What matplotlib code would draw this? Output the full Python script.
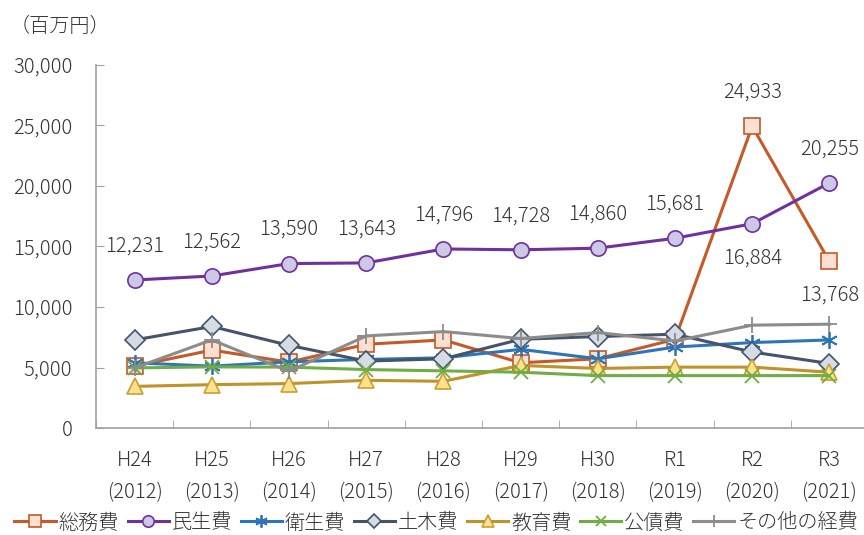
import matplotlib
matplotlib.use("Agg")
import matplotlib.pyplot as plt
from matplotlib.ticker import FuncFormatter

plt.rcParams['font.family'] = ['Noto Sans CJK JP', 'DejaVu Sans']
plt.rcParams['font.weight'] = 'light'

categories = ["H24\n(2012)", "H25\n(2013)", "H26\n(2014)", "H27\n(2015)", "H28\n(2016)",
              "H29\n(2017)", "H30\n(2018)", "R1\n(2019)", "R2\n(2020)", "R3\n(2021)"]

somu = [5110, 6440, 5440, 6920, 7280, 5390, 5720, 7330, 24933, 13768]
minsei = [12231, 12562, 13590, 13643, 14796, 14728, 14860, 15681, 16884, 20255]
eisei = [5390, 5110, 5470, 5670, 5800, 6500, 5720, 6690, 7060, 7280]
doboku = [7280, 8390, 6830, 5530, 5720, 7330, 7560, 7750, 6280, 5330]
kyoiku = [3440, 3580, 3670, 3940, 3860, 5170, 4920, 5030, 5030, 4610]
kosai = [4970, 5050, 5030, 4830, 4720, 4610, 4330, 4330, 4330, 4330]
sonota = [4970, 7280, 4690, 7610, 7970, 7390, 7890, 7190, 8500, 8580]

series_names = ["総務費", "民生費", "衛生費", "土木費", "教育費", "公債費", "その他の経費"]

FS = 14.5
TXT = "#333333"

fig = plt.figure(figsize=(8.64, 5.35), dpi=100)
ax = fig.add_axes([96/864, 107/535, 772/864, 363/535])

x = list(range(len(categories)))
lw = 2.2
styles = [
    (somu, dict(color="#C55A28", marker="s", markersize=11, markerfacecolor="#FBE0D3", markeredgecolor="#C55A28", markeredgewidth=1.2)),
    (minsei, dict(color="#7030A0", marker="o", markersize=11, markerfacecolor="#CDC8E4", markeredgecolor="#7030A0", markeredgewidth=1.2)),
    (eisei, dict(color="#2E75B6", marker=(6, 2, 0), markersize=12, markeredgecolor="#2E75B6", markeredgewidth=1.3)),
    (doboku, dict(color="#44546A", marker="D", markersize=10, markerfacecolor="#D6DCE5", markeredgecolor="#44546A", markeredgewidth=1.2)),
    (kyoiku, dict(color="#C0922A", marker="^", markersize=12, markerfacecolor="#FFE08F", markeredgecolor="#C9A030", markeredgewidth=1.2)),
    (kosai, dict(color="#70AD47", marker="x", markersize=10, markeredgecolor="#70AD47", markeredgewidth=1.3)),
    (sonota, dict(color="#8C8C8C", marker="+", markersize=11, markeredgecolor="#8C8C8C", markeredgewidth=1.3)),
]
for name, (vals, st) in zip(series_names, styles):
    ax.plot(x, vals, linewidth=lw, label=name, **st)

OFF = 24.5
# data labels for 民生費
for i, v in enumerate(minsei):
    dy = -OFF if i == 8 else OFF
    ax.annotate(f"{v:,}", (i, v), xytext=(0, dy), textcoords="offset points",
                ha="center", va="center", fontsize=FS, color=TXT)
# data labels for 総務費 (R2, R3)
ax.annotate(f"{somu[8]:,}", (8, somu[8]), xytext=(0, OFF), textcoords="offset points",
            ha="center", va="center", fontsize=FS, color=TXT)
ax.annotate(f"{somu[9]:,}", (9, somu[9]), xytext=(0, -OFF), textcoords="offset points",
            ha="center", va="center", fontsize=FS, color=TXT)

ax.set_xlim(-0.5, 9.5)
ax.set_ylim(0, 30000)
ax.set_yticks(range(0, 30001, 5000))
ax.yaxis.set_major_formatter(FuncFormatter(lambda v, p: f"{int(v):,}"))
ax.set_xticks(x)
ax.set_xticklabels(categories, linespacing=1.7)
ax.set_xticks([i + 0.5 for i in range(-1, 10)], minor=True)
ax.tick_params(axis="x", which="major", length=0, pad=16, labelsize=FS, labelcolor=TXT)
ax.tick_params(axis="x", which="minor", length=6, direction="in", color="#A0A0A0")
ax.tick_params(axis="y", length=6, direction="in", color="#A0A0A0", labelsize=FS,
               labelcolor=TXT, pad=17)
for s in ["top", "right"]:
    ax.spines[s].set_visible(False)
for s in ["left", "bottom"]:
    ax.spines[s].set_color("#A0A0A0")
    ax.spines[s].set_linewidth(1.2)

fig.text(10/864, 1 - 27/535, "（百万円）", fontsize=FS, color=TXT, va="center", ha="left")

leg = fig.legend(loc="center", bbox_to_anchor=(0.505, 1 - 523/535), ncol=7, frameon=False,
                 fontsize=FS, handlelength=2.05, handletextpad=0.15, columnspacing=0.42,
                 borderaxespad=0, markerscale=0.75)
for t in leg.get_texts():
    t.set_color(TXT)

fig.savefig("out.png", dpi=100)
